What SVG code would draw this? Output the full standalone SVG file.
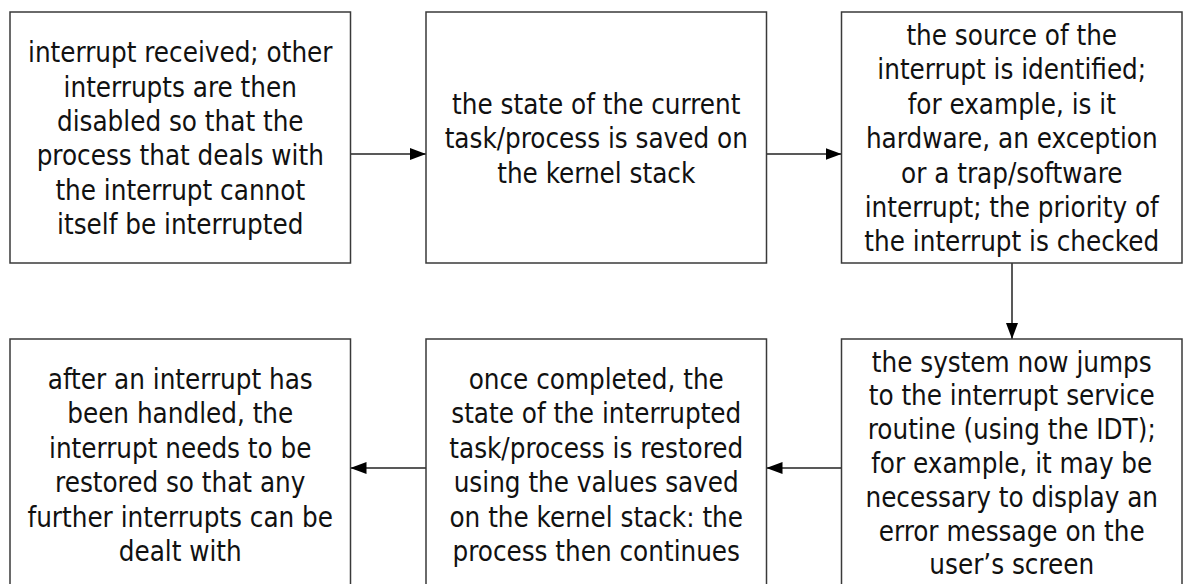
<svg xmlns="http://www.w3.org/2000/svg" width="1185" height="584" viewBox="0 0 1185 584">
<style>
.box{fill:#fff;stroke:#3a3a3a;stroke-width:1.5}
.lbl{font-family:"DejaVu Sans Condensed","DejaVu Sans",sans-serif;font-stretch:condensed;font-size:27.5px;fill:#111;text-anchor:middle}
.con{stroke:#222;stroke-width:1.5;fill:none}
</style>
<defs>
<marker id="ah" markerUnits="userSpaceOnUse" markerWidth="16" markerHeight="12" refX="16" refY="6" orient="auto">
<path d="M0,0 L16,6 L0,12 Z" fill="#000"/>
</marker>
</defs>
<rect width="1185" height="584" fill="#fff"/>
<g id="connectors">
<line class="con" x1="350.5" y1="154" x2="426" y2="154" marker-end="url(#ah)"/>
<line class="con" x1="766.5" y1="154" x2="841.5" y2="154" marker-end="url(#ah)"/>
<line class="con" x1="1012" y1="263" x2="1012" y2="339" marker-end="url(#ah)"/>
<line class="con" x1="841.5" y1="468" x2="766.5" y2="468" marker-end="url(#ah)"/>
<line class="con" x1="426" y1="468" x2="350.5" y2="468" marker-end="url(#ah)"/>
</g>
<g id="node1">
<rect class="box" x="10" y="12" width="340.5" height="251"/>
<text class="lbl" x="180.25" y="62.1">interrupt received; other<tspan x="180.25" dy="34.4">interrupts are then</tspan><tspan x="180.25" dy="34.4">disabled so that the</tspan><tspan x="180.25" dy="34.4">process that deals with</tspan><tspan x="180.25" dy="34.4">the interrupt cannot</tspan><tspan x="180.25" dy="34.4">itself be interrupted</tspan></text>
</g>
<g id="node2">
<rect class="box" x="426" y="12" width="340.5" height="251"/>
<text class="lbl" x="596.25" y="113.7">the state of the current<tspan x="596.25" dy="34.4">task/process is saved on</tspan><tspan x="596.25" dy="34.4">the kernel stack</tspan></text>
</g>
<g id="node3">
<rect class="box" x="841.5" y="12" width="340.5" height="251"/>
<text class="lbl" x="1011.75" y="44.9">the source of the<tspan x="1011.75" dy="34.4">interrupt is identified;</tspan><tspan x="1011.75" dy="34.4">for example, is it</tspan><tspan x="1011.75" dy="34.4">hardware, an exception</tspan><tspan x="1011.75" dy="34.4">or a trap/software</tspan><tspan x="1011.75" dy="34.4">interrupt; the priority of</tspan><tspan x="1011.75" dy="34.4">the interrupt is checked</tspan></text>
</g>
<g id="node4">
<rect class="box" x="841.5" y="339" width="340.5" height="251"/>
<text class="lbl" x="1011.75" y="371.5">the system now jumps<tspan x="1011.75" dy="33.8">to the interrupt service</tspan><tspan x="1011.75" dy="33.8">routine (using the IDT);</tspan><tspan x="1011.75" dy="33.8">for example, it may be</tspan><tspan x="1011.75" dy="33.8">necessary to display an</tspan><tspan x="1011.75" dy="33.8">error message on the</tspan><tspan x="1011.75" dy="33.8">user’s screen</tspan></text>
</g>
<g id="node5">
<rect class="box" x="426" y="339" width="340.5" height="251"/>
<text class="lbl" x="596.25" y="389">once completed, the<tspan x="596.25" dy="34.4">state of the interrupted</tspan><tspan x="596.25" dy="34.4">task/process is restored</tspan><tspan x="596.25" dy="34.4">using the values saved</tspan><tspan x="596.25" dy="34.4">on the kernel stack: the</tspan><tspan x="596.25" dy="34.4">process then continues</tspan></text>
</g>
<g id="node6">
<rect class="box" x="10" y="339" width="340.5" height="251"/>
<text class="lbl" x="180.25" y="389">after an interrupt has<tspan x="180.25" dy="34.4">been handled, the</tspan><tspan x="180.25" dy="34.4">interrupt needs to be</tspan><tspan x="180.25" dy="34.4">restored so that any</tspan><tspan x="180.25" dy="34.4">further interrupts can be</tspan><tspan x="180.25" dy="34.4">dealt with</tspan></text>
</g>
</svg>
